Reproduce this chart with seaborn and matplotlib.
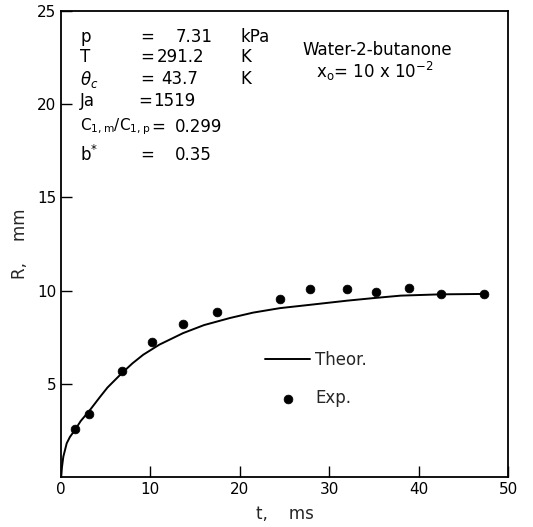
import matplotlib
matplotlib.use("Agg")
import matplotlib.pyplot as plt
import seaborn as sns
import pandas as pd
import numpy as np

# Theoretical curve
theor_t = [0.0, 0.1, 0.26, 0.64, 1.0, 1.53, 2.2, 3.25, 4.37, 5.2, 6.24, 6.87, 8.0, 9.2, 11.0, 13.66, 16.0, 18.9, 21.5, 24.5, 27.9, 32.0, 35.0, 38.0, 42.5, 47.3]
theor_R = [0.0, 0.5, 1.09, 1.81, 2.15, 2.5, 3.0, 3.6, 4.3, 4.8, 5.3, 5.6, 6.1, 6.56, 7.1, 7.72, 8.15, 8.53, 8.82, 9.06, 9.24, 9.46, 9.6, 9.73, 9.8, 9.82]

# Experimental points
exp_t = [1.53, 3.17, 6.87, 10.2, 13.66, 17.43, 24.5, 27.9, 32.0, 35.2, 38.9, 42.5, 47.3]
exp_R = [2.56, 3.37, 5.71, 7.22, 8.19, 8.85, 9.57, 10.07, 10.07, 9.95, 10.14, 9.82, 9.82]

x_ticks = [0, 10, 20, 30, 40, 50]
y_ticks = [5, 10, 15, 20, 25]

sns.set_theme(style="ticks")
plt.rcParams['font.family'] = ['DejaVu Sans']
plt.rcParams['mathtext.fontset'] = 'dejavusans'

W, H = 533, 527
fig = plt.figure(figsize=(W / 100, H / 100), dpi=100)
ax = fig.add_axes([61 / W, 1 - 477 / H, (508 - 61) / W, (477 - 11) / H])

df_t = pd.DataFrame({"t": theor_t, "R": theor_R})
df_e = pd.DataFrame({"t": exp_t, "R": exp_R})

sns.lineplot(data=df_t, x="t", y="R", ax=ax, color="black", linewidth=1.4,
             label="Theor.", sort=False)
sns.scatterplot(data=df_e, x="t", y="R", ax=ax, color="black", s=40,
                edgecolor="black", label="Exp.", zorder=3)

ax.set_xlim(0, 50)
ax.set_ylim(0, 25)
ax.set_xticks(x_ticks)
ax.set_yticks(y_ticks)
ax.tick_params(direction="in", length=8, width=1, labelsize=11, colors="black")
for s in ax.spines.values():
    s.set_visible(True)
    s.set_color("black")
    s.set_linewidth(1.3)

ax.set_xlabel("t,    ms", fontsize=12, labelpad=6)
ax.set_ylabel("R,    mm", fontsize=12, labelpad=6)

leg = ax.legend(loc="upper left", bbox_to_anchor=(265 / W, 1 - 351 / H),
                bbox_transform=fig.transFigure, frameon=False, fontsize=12,
                handlelength=2.7, handletextpad=0.3, labelspacing=1.2,
                borderpad=0, borderaxespad=0)

def ftxt(x, y, s, ha="left", fs=12):
    fig.text(x / W, 1 - y / H, s, fontsize=fs, ha=ha, va="center", color="black")

# (y, name, name size, "=" x, value, value x, unit)
rows = [
    (37, "p", 12, 140, "7.31", 176, "kPa"),
    (57, "T", 12, 140, "291.2", 157, "K"),
    (79, r"$\theta_c$", 12, 140, "43.7", 161, "K"),
    (101, "Ja", 12, 138, "1519", 153, ""),
    (127, r"$\mathregular{C_{1,m}/C_{1,p}}$", 11, 151, "0.299", 175, ""),
    (155, r"$\mathregular{b^{*}}$", 12, 140, "0.35", 175, ""),
]
for y, name, nfs, eqx, val, vx, unit in rows:
    ftxt(80, y, name, fs=nfs)
    ftxt(eqx, y, "=")
    ftxt(vx, y, val)
    if unit:
        ftxt(240, y, unit)

ftxt(302, 50, "Water-2-butanone")
ftxt(316, 71, r"$\mathregular{x_o}$= 10 x 10$^{-2}$")

fig.savefig("out.png", dpi=100)
